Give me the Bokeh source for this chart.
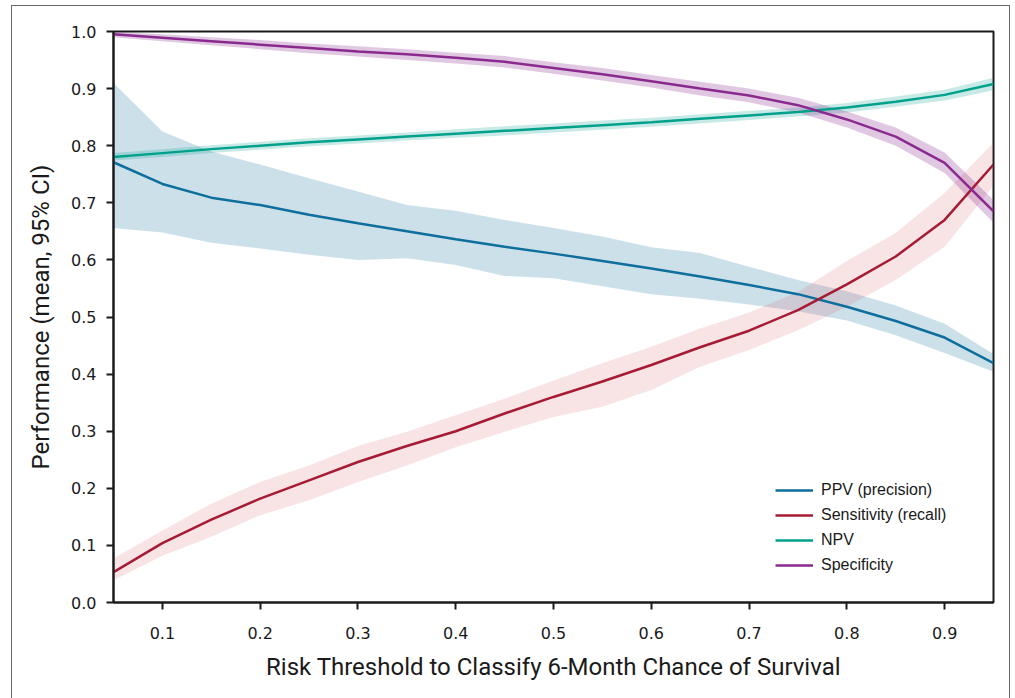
from bokeh.plotting import figure
from bokeh.models import (ColumnDataSource, Legend, LegendItem, FixedTicker,
                          Range1d, PrintfTickFormatter)
from bokeh.embed import file_html
from bokeh.resources import INLINE

thresholds = [0.05, 0.10, 0.15, 0.20, 0.25, 0.30, 0.35, 0.40, 0.45, 0.50,
              0.55, 0.60, 0.65, 0.70, 0.75, 0.80, 0.85, 0.90, 0.95]

ppv = [0.771, 0.733, 0.709, 0.696, 0.679, 0.664, 0.650, 0.636, 0.623, 0.611,
       0.598, 0.585, 0.571, 0.556, 0.540, 0.518, 0.493, 0.464, 0.419]
ppv_hi = [0.910, 0.825, 0.790, 0.767, 0.743, 0.720, 0.696, 0.686, 0.670, 0.656,
          0.641, 0.622, 0.612, 0.588, 0.565, 0.545, 0.520, 0.488, 0.435]
ppv_lo = [0.656, 0.648, 0.630, 0.620, 0.609, 0.600, 0.603, 0.591, 0.572, 0.568,
          0.554, 0.540, 0.532, 0.522, 0.510, 0.494, 0.468, 0.437, 0.404]

sens = [0.053, 0.104, 0.145, 0.182, 0.214, 0.246, 0.274, 0.300, 0.331, 0.360,
        0.387, 0.416, 0.447, 0.476, 0.512, 0.557, 0.606, 0.670, 0.767]
sens_hi = [0.077, 0.126, 0.173, 0.211, 0.240, 0.274, 0.299, 0.328, 0.357, 0.389,
           0.419, 0.448, 0.480, 0.508, 0.544, 0.598, 0.647, 0.717, 0.805]
sens_lo = [0.039, 0.082, 0.115, 0.153, 0.179, 0.211, 0.240, 0.272, 0.299, 0.325,
           0.343, 0.372, 0.413, 0.442, 0.477, 0.518, 0.565, 0.623, 0.730]

npv = [0.780, 0.787, 0.794, 0.800, 0.806, 0.811, 0.816, 0.821, 0.826, 0.831,
       0.836, 0.841, 0.847, 0.853, 0.859, 0.867, 0.877, 0.889, 0.908]
npv_hi = [0.787, 0.794, 0.801, 0.807, 0.813, 0.818, 0.823, 0.829, 0.834, 0.839,
          0.844, 0.849, 0.855, 0.861, 0.867, 0.875, 0.886, 0.898, 0.919]
npv_lo = [0.774, 0.780, 0.787, 0.793, 0.799, 0.804, 0.809, 0.814, 0.818, 0.823,
          0.828, 0.833, 0.839, 0.845, 0.851, 0.858, 0.868, 0.879, 0.897]

spec = [0.995, 0.989, 0.983, 0.977, 0.971, 0.965, 0.960, 0.954, 0.947, 0.936,
        0.925, 0.913, 0.900, 0.888, 0.871, 0.846, 0.816, 0.770, 0.685]
spec_hi = [0.999, 0.995, 0.990, 0.985, 0.979, 0.974, 0.969, 0.963, 0.957, 0.946,
           0.936, 0.924, 0.912, 0.900, 0.884, 0.860, 0.832, 0.788, 0.705]
spec_lo = [0.990, 0.983, 0.976, 0.969, 0.962, 0.956, 0.950, 0.944, 0.937, 0.926,
           0.914, 0.902, 0.888, 0.876, 0.858, 0.832, 0.800, 0.752, 0.665]

series_names = ["PPV (precision)", "Sensitivity (recall)", "NPV", "Specificity"]
y_ticks = [0.0, 0.1, 0.2, 0.3, 0.4, 0.5, 0.6, 0.7, 0.8, 0.9, 1.0]
x_ticks = [0.1, 0.2, 0.3, 0.4, 0.5, 0.6, 0.7, 0.8, 0.9]

colors = ["#0e6e9c", "#a61b33", "#00a18c", "#8b2a8e"]
fills = ["#0e6e9c", "#d9626f", "#00a18c", "#8b2a8e"]
fill_alpha = [0.21, 0.18, 0.22, 0.26]

src = ColumnDataSource(dict(
    x=thresholds,
    ppv=ppv, ppv_hi=ppv_hi, ppv_lo=ppv_lo,
    sens=sens, sens_hi=sens_hi, sens_lo=sens_lo,
    npv=npv, npv_hi=npv_hi, npv_lo=npv_lo,
    spec=spec, spec_hi=spec_hi, spec_lo=spec_lo,
))

p = figure(width=999, height=700, output_backend="svg", toolbar_location=None,
           x_range=Range1d(0.05, 0.95), y_range=Range1d(0.0, 1.0),
           min_border_left=101, min_border_right=18, min_border_top=25,
           min_border_bottom=104)
p.styles = {"border": "1px solid #6a6a6a", "margin-left": "11px",
            "margin-top": "5px"}

keys = ["ppv", "sens", "npv", "spec"]
for k, fc, fa in zip(keys, fills, fill_alpha):
    p.varea(x="x", y1=k + "_lo", y2=k + "_hi", source=src,
            fill_color=fc, fill_alpha=fa)

items = []
for k, c, name in zip(keys, colors, series_names):
    r = p.line(x="x", y=k, source=src, line_color=c, line_width=2.5)
    items.append(LegendItem(label=name, renderers=[r]))

legend = Legend(items=items, location=(662, 27), border_line_color=None,
                background_fill_alpha=0, padding=0, margin=0, spacing=5,
                glyph_width=38, glyph_height=20, label_height=20,
                label_standoff=8, label_text_font="Liberation Sans",
                label_text_font_size="16px", label_text_color="#1a1a1a")
p.add_layout(legend)

p.xgrid.visible = False
p.ygrid.visible = False
p.outline_line_color = "#1a1a1a"
p.outline_line_width = 2
p.outline_line_alpha = 1

p.xaxis.ticker = FixedTicker(ticks=x_ticks)
p.yaxis.ticker = FixedTicker(ticks=y_ticks)
p.xaxis.formatter = PrintfTickFormatter(format="%.1f")
p.yaxis.formatter = PrintfTickFormatter(format="%.1f")

for ax in (p.xaxis, p.yaxis):
    ax.axis_line_color = "#1a1a1a"
    ax.axis_line_width = 2
    ax.major_tick_line_color = "#1a1a1a"
    ax.major_tick_line_width = 2
    ax.major_tick_out = 7
    ax.major_tick_in = 0
    ax.minor_tick_line_color = None
    ax.major_label_text_font = "DejaVu Sans"
    ax.major_label_text_font_size = "16px"
    ax.major_label_text_color = "#1a1a1a"
    ax.axis_label_text_font = "Roboto"
    ax.axis_label_text_font_style = "normal"
    ax.axis_label_text_font_size = "24px"
    ax.axis_label_text_color = "#1a1a1a"

p.xaxis.axis_label = "Risk Threshold to Classify 6-Month Chance of Survival"
p.yaxis.axis_label = "Performance (mean, 95% CI)"
p.xaxis.major_label_standoff = 17
p.yaxis.major_label_standoff = 10
p.xaxis.axis_label_standoff = 11
p.yaxis.axis_label_standoff = 13

open("out.html", "w").write(file_html(p, INLINE))
